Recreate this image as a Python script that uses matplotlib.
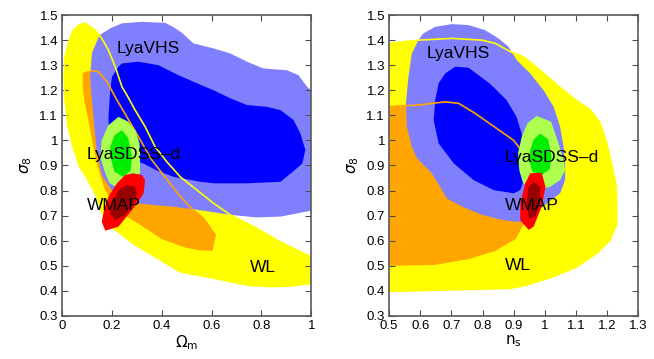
import matplotlib
matplotlib.use("Agg")
import matplotlib.pyplot as plt
from matplotlib.patches import Polygon, Ellipse

plt.rcParams['font.family'] = ['Liberation Sans', 'DejaVu Sans']
plt.rcParams['mathtext.fontset'] = 'dejavusans'

# colours of the confidence regions
YELLOW = '#ffff00'
ORANGE = '#ffa500'
LBLUE = '#8080ff'
BLUE = '#0000ff'
LGREEN = '#adff50'
GREEN = '#00ee00'
RED = '#ff0000'
DRED = '#990000'

# ---- left panel: Omega_m vs sigma_8 (contour outlines)
om_wl2 = [(0.092, 1.467), (0.133, 1.44), (0.159, 1.407), (0.186, 1.36), (0.213, 1.294),
          (0.24, 1.214), (0.26, 1.181), (0.293, 1.121), (0.333, 1.055), (0.373, 0.975),
          (0.42, 0.915), (0.474, 0.855), (0.541, 0.802), (0.608, 0.749), (0.675, 0.703),
          (0.768, 0.656), (0.876, 0.595), (1.0, 0.535), (1.0, 0.43), (0.916, 0.419),
          (0.835, 0.417), (0.742, 0.423), (0.607, 0.451), (0.474, 0.476), (0.373, 0.536),
          (0.293, 0.583), (0.225, 0.635), (0.19, 0.66), (0.162, 0.71), (0.139, 0.776),
          (0.104, 0.842), (0.071, 0.895), (0.044, 0.975), (0.024, 1.054), (0.012, 1.16),
          (0.008, 1.254), (0.012, 1.334), (0.025, 1.387), (0.045, 1.44), (0.07, 1.462)]
om_wl1 = [(0.086, 1.267), (0.12, 1.278), (0.146, 1.274), (0.18, 1.234), (0.22, 1.161),
          (0.26, 1.094), (0.306, 1.015), (0.36, 0.922), (0.42, 0.845), (0.474, 0.776),
          (0.527, 0.722), (0.567, 0.69), (0.614, 0.623), (0.601, 0.563), (0.55, 0.565),
          (0.494, 0.576), (0.4, 0.61), (0.32, 0.663), (0.26, 0.70), (0.2, 0.76),
          (0.173, 0.809), (0.146, 0.895), (0.126, 0.988), (0.106, 1.094), (0.092, 1.161),
          (0.086, 1.22)]
om_vhs2 = [(0.193, 1.447), (0.24, 1.467), (0.32, 1.473), (0.414, 1.469), (0.45, 1.45),
           (0.48, 1.43), (0.527, 1.387), (0.608, 1.367), (0.675, 1.347), (0.742, 1.314),
           (0.808, 1.287), (0.902, 1.28), (0.949, 1.26), (0.983, 1.214), (1.0, 1.2),
           (1.0, 0.72), (0.876, 0.696), (0.78, 0.693), (0.675, 0.703), (0.6, 0.715),
           (0.527, 0.725), (0.45, 0.735), (0.373, 0.742), (0.293, 0.75), (0.25, 0.76),
           (0.2, 0.80), (0.16, 0.86), (0.14, 0.95), (0.125, 1.1), (0.112, 1.25),
           (0.12, 1.35), (0.15, 1.42)]
om_vhs1 = [(0.2, 1.254), (0.226, 1.294), (0.24, 1.307), (0.306, 1.314), (0.387, 1.3),
           (0.467, 1.26), (0.541, 1.228), (0.608, 1.2), (0.675, 1.168), (0.742, 1.141),
           (0.822, 1.134), (0.876, 1.121), (0.929, 1.081), (0.956, 1.028), (0.976, 0.962),
           (0.964, 0.908), (0.917, 0.868), (0.876, 0.835), (0.742, 0.829), (0.608, 0.829),
           (0.554, 0.835), (0.447, 0.855), (0.38, 0.88), (0.326, 0.908), (0.25, 0.93),
           (0.19, 0.95), (0.186, 1.094), (0.193, 1.2)]
om_sdss2 = [(0.226, 1.094), (0.265, 1.075), (0.293, 1.041), (0.31, 0.99), (0.313, 0.949),
            (0.313, 0.875), (0.29, 0.82), (0.24, 0.80), (0.19, 0.83), (0.173, 0.869),
            (0.153, 0.935), (0.159, 1.0), (0.185, 1.06)]
om_sdss1 = [(0.24, 1.041), (0.265, 1.01), (0.28, 0.935), (0.275, 0.88), (0.245, 0.855),
            (0.21, 0.875), (0.195, 0.93), (0.193, 0.975), (0.21, 1.02)]
om_wmap2 = [(0.253, 0.862), (0.286, 0.869), (0.32, 0.862), (0.333, 0.842), (0.327, 0.789),
            (0.305, 0.755), (0.28, 0.722), (0.226, 0.656), (0.173, 0.64), (0.159, 0.676),
            (0.17, 0.73), (0.186, 0.776), (0.22, 0.829)]
om_wmap1 = [(0.26, 0.822), (0.293, 0.815), (0.3, 0.79), (0.293, 0.762), (0.253, 0.702),
            (0.213, 0.682), (0.193, 0.709), (0.2, 0.745), (0.213, 0.776), (0.233, 0.809)]

# ---- right panel: n_s vs sigma_8
ns_wl2 = [(0.5, 1.387), (0.594, 1.40), (0.701, 1.407), (0.798, 1.40), (0.841, 1.387),
          (0.889, 1.354), (0.931, 1.334), (0.985, 1.28), (1.039, 1.221), (1.092, 1.168),
          (1.146, 1.121), (1.178, 1.068), (1.199, 0.988), (1.215, 0.902), (1.228, 0.82),
          (1.231, 0.75), (1.231, 0.669), (1.21, 0.603), (1.167, 0.55), (1.103, 0.496),
          (1.028, 0.457), (0.942, 0.423), (0.889, 0.41), (0.701, 0.404), (0.5, 0.398)]
ns_wl1 = [(0.5, 1.135), (0.594, 1.141), (0.68, 1.154), (0.723, 1.148), (0.776, 1.108),
          (0.83, 1.061), (0.883, 1.015), (0.9, 1.0), (0.932, 0.948), (0.959, 0.895),
          (0.965, 0.85), (0.955, 0.75), (0.935, 0.68), (0.92, 0.645), (0.905, 0.61),
          (0.841, 0.563), (0.755, 0.53), (0.648, 0.507), (0.5, 0.503)]
ns_vhs2 = [(0.594, 1.40), (0.61, 1.427), (0.648, 1.453), (0.701, 1.464), (0.755, 1.46),
           (0.808, 1.44), (0.851, 1.407), (0.883, 1.374), (0.91, 1.32), (0.953, 1.267),
           (0.996, 1.2), (1.028, 1.134), (1.049, 1.055), (1.06, 0.975), (1.065, 0.902),
           (1.065, 0.842), (1.049, 0.789), (1.007, 0.749), (0.98, 0.722), (0.95, 0.69),
           (0.93, 0.675), (0.905, 0.676), (0.862, 0.683), (0.798, 0.703), (0.734, 0.736),
           (0.685, 0.769), (0.664, 0.815), (0.637, 0.869), (0.605, 0.909), (0.589, 0.93),
           (0.573, 0.975), (0.557, 1.055), (0.554, 1.148), (0.562, 1.254), (0.573, 1.347)]
ns_vhs1 = [(0.68, 1.267), (0.712, 1.294), (0.755, 1.29), (0.823, 1.227), (0.877, 1.161),
           (0.909, 1.094), (0.925, 1.03), (0.935, 0.95), (0.935, 0.85), (0.921, 0.802),
           (0.9, 0.789), (0.835, 0.802), (0.771, 0.842), (0.707, 0.909), (0.659, 0.988),
           (0.643, 1.081), (0.648, 1.161), (0.659, 1.228)]
ns_sdss2 = [(0.974, 1.097), (1.02, 1.075), (1.044, 0.988), (1.06, 0.922), (1.065, 0.882),
            (1.049, 0.842), (1.017, 0.815), (0.97, 0.80), (0.93, 0.83), (0.918, 0.88),
            (0.914, 0.95), (0.926, 1.015), (0.945, 1.07)]
ns_sdss1 = [(0.985, 1.028), (1.01, 1.005), (1.022, 0.935), (1.015, 0.885), (0.99, 0.862),
            (0.96, 0.875), (0.95, 0.92), (0.953, 0.962), (0.965, 1.005)]
ns_wmap2 = [(0.953, 0.869), (0.99, 0.871), (1.002, 0.815), (0.99, 0.736), (0.964, 0.656),
            (0.948, 0.643), (0.921, 0.682), (0.921, 0.749), (0.937, 0.829)]
ns_wmap1 = [(0.964, 0.835), (0.985, 0.815), (0.985, 0.749), (0.969, 0.696), (0.948, 0.689),
            (0.942, 0.762), (0.948, 0.815)]

# label anchors (x, baseline y)
om_labels = {'LyaVHS': (0.219, 1.347), 'LyaSDSS\u2013d': (0.1, 0.924),
             'WMAP': (0.1, 0.724), 'WL': (0.753, 0.474)}
ns_labels = {'LyaVHS': (0.62, 1.327), 'LyaSDSS\u2013d': (0.872, 0.915),
             'WMAP': (0.872, 0.724), 'WL': (0.872, 0.482)}


def draw_panel(ax, wl2, wl1, vhs2, vhs1, sdss2, sdss1, wmap2, wmap1, labels):
    for pts, col in [(wl2, YELLOW), (wl1, ORANGE), (vhs2, LBLUE), (vhs1, BLUE)]:
        ax.add_patch(Polygon(pts, closed=True, fc=col, ec='none', zorder=1))
    # WL outlines show through the Lya regions
    ax.add_patch(Polygon(wl2, closed=True, fill=False, ec=YELLOW, lw=1.2, zorder=2))
    ax.add_patch(Polygon(wl1, closed=True, fill=False, ec=ORANGE, lw=1.2, zorder=2))
    for pts, col in [(sdss2, LGREEN), (sdss1, GREEN), (wmap2, RED), (wmap1, DRED)]:
        ax.add_patch(Polygon(pts, closed=True, fc=col, ec='none', zorder=3))
    for txt, (x, y) in labels.items():
        ax.text(x, y, txt, fontsize=12.5, va='baseline', ha='left', zorder=4)
    ax.set_ylim(0.3, 1.5)
    ax.set_yticks([0.3, 0.4, 0.5, 0.6, 0.7, 0.8, 0.9, 1.0, 1.1, 1.2, 1.3, 1.4, 1.5])
    ax.set_yticklabels(['0.3', '0.4', '0.5', '0.6', '0.7', '0.8', '0.9', '1',
                        '1.1', '1.2', '1.3', '1.4', '1.5'])
    ax.tick_params(direction='in', top=True, right=True, length=4, width=0.8,
                   color='0.3', labelsize=9.5, pad=3)
    for s in ax.spines.values():
        s.set_color('0.35')
        s.set_linewidth(1.2)
    ax.set_ylabel(r'$\sigma_8$', fontsize=11, labelpad=4)


fig = plt.figure(figsize=(6.54, 3.59), dpi=100)
ax1 = fig.add_axes([0.095, 0.120, 0.381, 0.838])
ax2 = fig.add_axes([0.595, 0.120, 0.381, 0.838])

draw_panel(ax1, om_wl2, om_wl1, om_vhs2, om_vhs1, om_sdss2, om_sdss1,
           om_wmap2, om_wmap1, om_labels)
ax1.set_xlim(0, 1)
ax1.set_xticks([0, 0.2, 0.4, 0.6, 0.8, 1.0])
ax1.set_xticklabels(['0', '0.2', '0.4', '0.6', '0.8', '1'])
ax1.set_xlabel(r'$\Omega_\mathrm{m}$', fontsize=11, labelpad=1)

draw_panel(ax2, ns_wl2, ns_wl1, ns_vhs2, ns_vhs1, ns_sdss2, ns_sdss1,
           ns_wmap2, ns_wmap1, ns_labels)
ax2.set_xlim(0.5, 1.3)
ax2.set_xticks([0.5, 0.6, 0.7, 0.8, 0.9, 1.0, 1.1, 1.2, 1.3])
ax2.set_xticklabels(['0.5', '0.6', '0.7', '0.8', '0.9', '1', '1.1', '1.2', '1.3'])
ax2.set_xlabel(r'$\mathrm{n}_\mathrm{s}$', fontsize=11, labelpad=1)

fig.savefig('out.png', dpi=100)
